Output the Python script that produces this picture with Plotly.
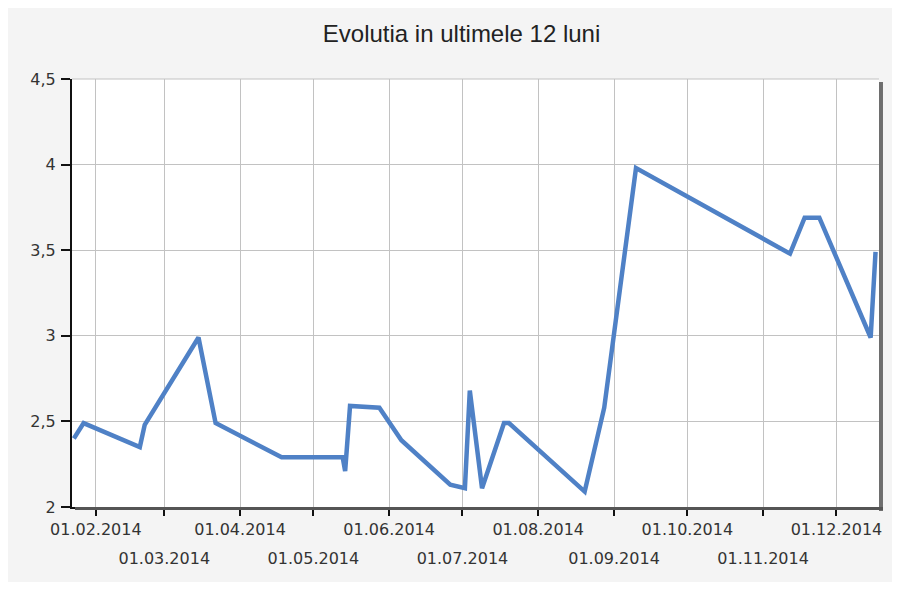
import plotly.graph_objects as go

# ---- data ----
dates = [
    "2014-01-23", "2014-01-27", "2014-02-19", "2014-02-21", "2014-03-15",
    "2014-03-22", "2014-04-18", "2014-05-13", "2014-05-14", "2014-05-16",
    "2014-05-28", "2014-06-02", "2014-06-06", "2014-06-26", "2014-07-02",
    "2014-07-04", "2014-07-09", "2014-07-18", "2014-07-20", "2014-08-20",
    "2014-08-28", "2014-09-10", "2014-11-12", "2014-11-18", "2014-11-24",
    "2014-12-15", "2014-12-17",
]
values = [
    2.40, 2.49, 2.35, 2.48, 2.99,
    2.49, 2.29, 2.29, 2.21, 2.59,
    2.58, 2.48, 2.39, 2.13, 2.11,
    2.68, 2.11, 2.49, 2.49, 2.09,
    2.58, 3.98, 3.48, 3.69, 3.69,
    2.99, 3.49,
]

month_ticks_upper = ["2014-02-01", "2014-04-01", "2014-06-01", "2014-08-01", "2014-10-01", "2014-12-01"]
month_labels_upper = ["01.02.2014", "01.04.2014", "01.06.2014", "01.08.2014", "01.10.2014", "01.12.2014"]
month_ticks_lower = ["2014-03-01", "2014-05-01", "2014-07-01", "2014-09-01", "2014-11-01"]
month_labels_lower = ["01.03.2014", "01.05.2014", "01.07.2014", "01.09.2014", "01.11.2014"]
all_month_ticks = sorted(month_ticks_upper + month_ticks_lower)

y_ticks = [2, 2.5, 3, 3.5, 4, 4.5]
title_text = "Evolutia in ultimele 12 luni"

x_range = ["2014-01-22 06:00", "2014-12-18 10:00"]
y_range = [2, 4.5]

# page has an 8px body margin; figure sits at (8, 8)
W, H = 885, 574
L, T = 64, 71
pw, ph = 810, 428
R = W - L - pw
B = H - T - ph

tick_font = dict(family="DejaVu Sans", size=16, color="#333333")

fig = go.Figure()
fig.add_trace(go.Scatter(
    x=dates, y=values, mode="lines",
    line=dict(color="#4F81C6", width=4.5),
    showlegend=False, hoverinfo="x+y",
))
fig.add_trace(go.Scatter(x=[], y=[], xaxis="x2", showlegend=False, hoverinfo="skip"))

upper_text = {t: l for t, l in zip(month_ticks_upper, month_labels_upper)}

fig.update_layout(
    width=W, height=H,
    margin=dict(l=L, r=R, t=T, b=B),
    paper_bgcolor="#f4f4f4",
    plot_bgcolor="#ffffff",
    separators=",.",
    title=dict(text=title_text, x=(455 - L) / pw, xref="paper", xanchor="center",
               y=1 - 26 / H, yref="container", yanchor="middle",
               font=dict(family="Liberation Sans", size=24, color="#222222")),
    xaxis=dict(
        type="date", range=x_range,
        tickvals=all_month_ticks,
        ticktext=[upper_text.get(t, "") for t in all_month_ticks],
        ticks="outside", ticklen=7, tickwidth=2, tickcolor="#111111",
        showline=True, linewidth=2, linecolor="#111111",
        showgrid=True, gridcolor="#c2c2c2", gridwidth=1,
        tickfont=tick_font, ticklabelstandoff=0,
        zeroline=False, mirror=False,
    ),
    xaxis2=dict(
        type="date", range=x_range, overlaying="x", anchor="y", side="bottom",
        tickvals=month_ticks_lower, ticktext=month_labels_lower,
        ticks="", showline=False, showgrid=False, zeroline=False,
        tickfont=tick_font, ticklabelstandoff=40,
    ),
    yaxis=dict(
        range=y_range, tickvals=y_ticks,
        ticks="outside", ticklen=9, tickwidth=2, tickcolor="#111111",
        showline=True, linewidth=2, linecolor="#111111",
        showgrid=True, gridcolor="#c2c2c2", gridwidth=1,
        tickfont=tick_font, zeroline=False, ticklabelstandoff=2,
    ),
    shapes=[
        # top border (gray)
        dict(type="line", xref="paper", yref="paper", layer="above",
             x0=0, x1=1, y0=1, y1=1, line=dict(color="#c2c2c2", width=1)),
        # right shadow
        dict(type="rect", xref="paper", yref="paper", layer="above",
             x0=1, x1=1 + 4 / pw, y0=-4 / ph, y1=1 - 3 / ph,
             fillcolor="#6e6e6e", line=dict(width=0)),
        # bottom shadow
        dict(type="rect", xref="paper", yref="paper", layer="above",
             x0=3 / pw, x1=1 + 4 / pw, y0=-3 / ph, y1=0,
             fillcolor="#555555", line=dict(width=0)),
    ],
)

fig.write_html("out.html")
